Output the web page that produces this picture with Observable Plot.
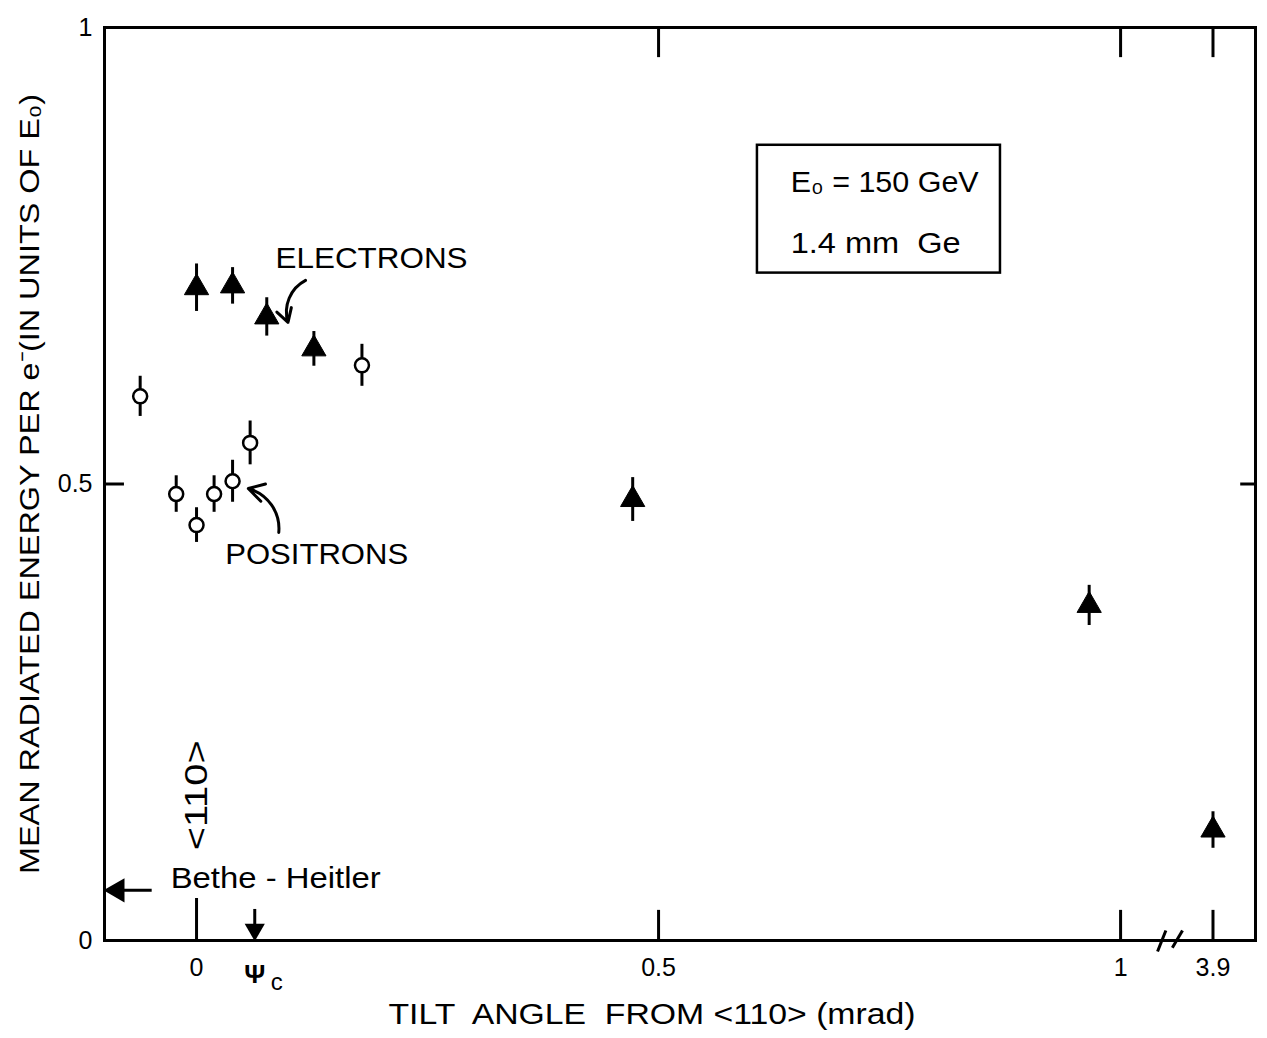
<!DOCTYPE html>
<html>
<head>
<meta charset="utf-8">
<script src="https://cdn.jsdelivr.net/npm/d3@7"></script>
<script src="https://cdn.jsdelivr.net/npm/@observablehq/plot@0.6"></script>
<style>
  html, body { margin: 0; padding: 0; background: white; }
  #chart { width: 1267px; height: 1038px; }
</style>
</head>
<body>
<div id="chart"></div>
<script>
// ---- data ----
const electronX   = [0.0, 0.039, 0.076, 0.127, 0.472, 0.966, 3.9];
const electronY   = [0.715, 0.717, 0.683, 0.648, 0.483, 0.367, 0.121];
const electronErr = [0.026, 0.020, 0.021, 0.019, 0.024, 0.022, 0.020];

const positronX   = [-0.061, -0.022, 0.0, 0.019, 0.039, 0.058, 0.179];
const positronY   = [0.596, 0.489, 0.455, 0.489, 0.503, 0.545, 0.630];
const positronErr = [0.022, 0.020, 0.019, 0.020, 0.023, 0.024, 0.023];

const xTicks      = [0, 0.5, 1, 3.9];
const xTickLabels = ["0", "0.5", "1", "3.9"];
const yTicks      = [0, 0.5, 1];
const yTickLabels = ["0", "0.5", "1"];

const betheHeitler = 0.055;   // mean radiated energy, amorphous (Bethe-Heitler)
const psiC = 0.063;           // critical angle ψc (mrad)
const axisDir = 0;            // <110> direction

const xTitle = "TILT  ANGLE  FROM <110> (mrad)";
const yTitle = "MEAN RADIATED ENERGY PER e\u207B(IN UNITS OF E\u2080)";

// broken x axis: values beyond the break (3.9) drawn just past 1
const brk = v => v > 2 ? 1.1 + (v - 3.9) : v;

const electrons = electronX.map((x, i) => ({x: brk(x), y: electronY[i], e: electronErr[i]}));
const positrons = positronX.map((x, i) => ({x: brk(x), y: positronY[i], e: positronErr[i]}));
const xt = xTicks.map(brk);
const innerTicks = xt.filter(d => d !== 0);

const font = "'Liberation Sans', Arial, Helvetica, sans-serif";

const chart = Plot.plot({
  width: 1267,
  height: 1038,
  marginLeft: 104,
  marginRight: 12,
  marginTop: 27,
  marginBottom: 98,
  x: {domain: [-0.0996, 1.146]},
  y: {domain: [0, 1]},
  style: {fontFamily: font, fontSize: "25px", background: "white", color: "black", overflow: "visible"},
  marks: [
    Plot.frame({stroke: "black", strokeWidth: 3}),
    // inward ticks
    Plot.ruleX(innerTicks, {x: d => d, y1: 0, y2: 0.033, strokeWidth: 3}),
    Plot.ruleX(innerTicks, {x: d => d, y1: 1, y2: 0.967, strokeWidth: 3}),
    Plot.ruleX([axisDir], {x: d => d, y1: 0, y2: 0.046, strokeWidth: 3}),
    Plot.ruleY([0.5], {y: d => d, x1: -0.0996, x2: -0.078, strokeWidth: 3}),
    Plot.ruleY([0.5], {y: d => d, x1: 1.146, x2: 1.13, strokeWidth: 3}),
    // axis break marks
    Plot.link([{x1: 1.040, y1: -0.012, x2: 1.049, y2: 0.011}, {x1: 1.056, y1: -0.008, x2: 1.067, y2: 0.011}],
      {x1: "x1", y1: "y1", x2: "x2", y2: "y2", strokeWidth: 3}),
    // axes (labels only)
    Plot.axisX(xt, {tickSize: 0, tickPadding: 18, label: null, fontSize: 25,
      tickFormat: d => xTickLabels[xt.indexOf(d)]}),
    Plot.axisY(yTicks, {tickSize: 0, tickPadding: 12, label: null, fontSize: 25,
      tickFormat: d => yTickLabels[yTicks.indexOf(d)]}),
    Plot.text([xTitle], {frameAnchor: "bottom", dy: 83, dx: -28, fontSize: 29, textAnchor: "middle",
      text: d => d, className: "t-xtitle"}),
    Plot.text([yTitle], {frameAnchor: "left", dx: -74, rotate: -90, fontSize: 28, textAnchor: "middle",
      text: d => d, className: "t-ytitle"}),
    // error bars + markers
    Plot.ruleX(electrons, {x: "x", y1: d => d.y - d.e, y2: d => d.y + d.e, strokeWidth: 3}),
    Plot.dot(electrons, {x: "x", y: "y", symbol: "triangle", r: 9, fill: "black", stroke: "black", strokeWidth: 1}),
    Plot.ruleX(positrons, {x: "x", y1: d => d.y - d.e, y2: d => d.y + d.e, strokeWidth: 3}),
    Plot.dot(positrons, {x: "x", y: "y", symbol: "circle", r: 7, fill: "white", stroke: "black", strokeWidth: 2.5}),
    // annotations
    Plot.text(["ELECTRONS"], {x: 0.0855, y: 0.747, textAnchor: "start", fontSize: 29, text: d => d, className: "t-el"}),
    Plot.arrow([{x1: 0.118, y1: 0.723, x2: 0.099, y2: 0.677}],
      {x1: "x1", y1: "y1", x2: "x2", y2: "y2", bend: -40, strokeWidth: 3, headLength: 14}),
    Plot.text(["POSITRONS"], {x: 0.031, y: 0.422, textAnchor: "start", fontSize: 29, text: d => d, className: "t-po"}),
    Plot.arrow([{x1: 0.089, y1: 0.447, x2: 0.056, y2: 0.495}],
      {x1: "x1", y1: "y1", x2: "x2", y2: "y2", bend: -40, strokeWidth: 3, headLength: 14}),
    // info box
    Plot.rect([{x1: 0.607, x2: 0.870, y1: 0.731, y2: 0.871}],
      {x1: "x1", x2: "x2", y1: "y1", y2: "y2", fill: "none", stroke: "black", strokeWidth: 2.5}),
    Plot.text(["E\u2080 = 150 GeV"], {x: 0.643, y: 0.830, textAnchor: "start", fontSize: 29, text: d => d, className: "t-e0"}),
    Plot.text(["1.4 mm  Ge"], {x: 0.643, y: 0.763, textAnchor: "start", fontSize: 29, text: d => d, className: "t-ge"}),
    // <110> label
    Plot.text(["<110>"], {x: axisDir, y: 0.159, rotate: -90, fontSize: 32, text: d => d, className: "t-110"}),
    // Bethe-Heitler arrow
    Plot.text(["Bethe - Heitler"], {x: -0.028, y: 0.068, textAnchor: "start", fontSize: 29, text: d => d, className: "t-bh"}),
    Plot.ruleY([betheHeitler], {y: d => d, x1: -0.048, x2: -0.085, strokeWidth: 3}),
    Plot.dot([betheHeitler], {x: -0.0996, y: d => d, dx: 13, symbol: "triangle", r: 9, rotate: -90, fill: "black"}),
    // psi_c arrow
    Plot.ruleX([psiC], {x: d => d, y1: 0.034, y2: 0.015, strokeWidth: 3}),
    Plot.dot([psiC], {x: d => d, y: 0, dy: -11, symbol: "triangle", r: 7.5, rotate: 180, fill: "black"}),
    Plot.text(["\u03A8"], {x: psiC, y: 0, dy: 34, fontSize: 26, fontWeight: "bold", text: d => d}),
    Plot.text(["c"], {x: psiC, y: 0, dx: 22, dy: 42, fontSize: 24, text: d => d})
  ]
});
document.getElementById("chart").append(chart);

// stretch texts to the widths they have in the reference
const lengths = {
  "t-xtitle": 527, "t-ytitle": 780, "t-el": 192, "t-po": 183,
  "t-e0": 188, "t-ge": 170, "t-110": 110, "t-bh": 210
};
for (const [cls, L] of Object.entries(lengths)) {
  d3.select(chart).selectAll("." + cls + " text")
    .attr("textLength", L).attr("lengthAdjust", "spacingAndGlyphs");
}
</script>
</body>
</html>
